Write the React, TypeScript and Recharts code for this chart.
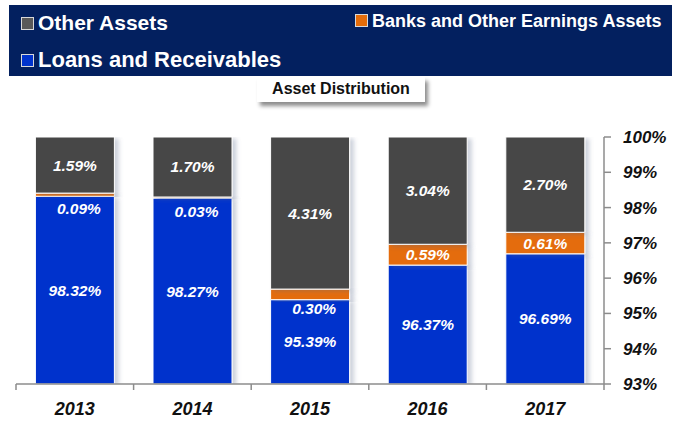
import { BarChart, Bar, XAxis, YAxis, LabelList } from 'recharts';

const years = ['2013', '2014', '2015', '2016', '2017'];
const loans = [98.32, 98.27, 95.39, 96.37, 96.69];
const banks = [0.09, 0.03, 0.3, 0.59, 0.61];
const other = [1.59, 1.7, 4.31, 3.04, 2.7];
const yTicks = [93, 94, 95, 96, 97, 98, 99, 100];

const data = years.map((year, i) => ({
  year,
  loans: loans[i],
  banks: banks[i],
  other: other[i],
}));

const W = 684;
const H = 421;
const M = { top: 137, right: 0, bottom: 0, left: 16 };
const Y_AXIS_W = 80;
const X_AXIS_H = 37;
const PLOT_BOTTOM = H - X_AXIS_H;
const BAND = (W - M.left - M.right - Y_AXIS_W) / years.length;

const FONT = '"Liberation Sans", Arial, sans-serif';
const GREY = '#474747';
const ORANGE = '#e46c0a';
const BLUE = '#0033cc';
const NAVY = '#03205f';
const AXIS = '#8c8c8c';

const pct = (v: number) => `${v.toFixed(2)}%`;

// white italic value label in the middle of a segment
const CenterLabel = (props: any) => {
  const { x, y, width, height, value } = props;
  const top = Math.max(y, M.top);
  const bottom = Math.min(y + height, PLOT_BOTTOM);
  return (
    <text
      x={x + width / 2}
      y={(top + bottom) / 2}
      textAnchor="middle"
      dominantBaseline="central"
      fill="#fff"
      fontFamily={FONT}
      fontWeight="bold"
      fontStyle="italic"
      fontSize={15.5}
    >
      {pct(value)}
    </text>
  );
};

// thin segments get their label just below, on the blue
const BanksLabel = (props: any) => {
  const { x, y, width, height, value } = props;
  const small = value < 0.5;
  return (
    <text
      x={x + width / 2 + (small ? 4 : 0)}
      y={y + height / 2 + (small ? 14 : 0)}
      textAnchor="middle"
      dominantBaseline="central"
      fill="#fff"
      fontFamily={FONT}
      fontWeight="bold"
      fontStyle="italic"
      fontSize={15.5}
    >
      {pct(value)}
    </text>
  );
};

const YearTick = (props: any) => {
  const { x, payload, index } = props;
  return (
    <g>
      {index === 0 && (
        <line x1={x - BAND / 2} x2={x - BAND / 2} y1={PLOT_BOTTOM} y2={PLOT_BOTTOM + 6} stroke={AXIS} strokeWidth={1.5} />
      )}
      <line x1={x + BAND / 2} x2={x + BAND / 2} y1={PLOT_BOTTOM} y2={PLOT_BOTTOM + 6} stroke={AXIS} strokeWidth={1.5} />
      <text
        x={x}
        y={PLOT_BOTTOM + 25}
        textAnchor="middle"
        dominantBaseline="central"
        fill="#111"
        fontFamily={FONT}
        fontWeight="bold"
        fontStyle="italic"
        fontSize={18}
      >
        {payload.value}
      </text>
    </g>
  );
};

const LegendSwatch = ({ color }: { color: string }) => (
  <span
    style={{
      display: 'inline-block',
      width: 11,
      height: 11,
      background: color,
      border: '1px solid #d9d9d9',
      marginRight: 4,
    }}
  />
);

export default function App() {
  return (
    <div style={{ position: 'absolute', left: 0, top: 0, width: W, height: H, background: '#fff', fontFamily: FONT }}>
      <BarChart width={W} height={H} data={data} margin={M} barCategoryGap="16.5%">
        <defs>
          <filter id="barShadow" x="-10%" y="-10%" width="130%" height="130%">
            <feDropShadow dx={4} dy={2} stdDeviation={2} floodColor="#5a6a8a" floodOpacity={0.3} />
          </filter>
        </defs>
        <XAxis
          dataKey="year"
          height={X_AXIS_H}
          axisLine={{ stroke: AXIS, strokeWidth: 1.5 }}
          tickLine={false}
          tick={<YearTick />}
          interval={0}
        />
        <YAxis
          orientation="right"
          width={Y_AXIS_W}
          domain={[93, 100]}
          ticks={yTicks}
          allowDataOverflow
          axisLine={{ stroke: AXIS, strokeWidth: 1.5 }}
          tickLine={{ stroke: AXIS, strokeWidth: 1.5 }}
          tickSize={7}
          tickMargin={12}
          tickFormatter={(v: number) => `${v}%`}
          tick={{ fill: '#111', fontSize: 17, fontWeight: 'bold', fontStyle: 'italic', fontFamily: FONT }}
        />
        <Bar dataKey="loans" stackId="a" fill={BLUE} stroke="#fff" strokeWidth={1} filter="url(#barShadow)" isAnimationActive={false}>
          <LabelList dataKey="loans" content={<CenterLabel />} />
        </Bar>
        <Bar dataKey="banks" stackId="a" fill={ORANGE} stroke="#fff" strokeWidth={1} filter="url(#barShadow)" isAnimationActive={false}>
          <LabelList dataKey="banks" content={<BanksLabel />} />
        </Bar>
        <Bar dataKey="other" stackId="a" fill={GREY} stroke="#fff" strokeWidth={1} filter="url(#barShadow)" isAnimationActive={false}>
          <LabelList dataKey="other" content={<CenterLabel />} />
        </Bar>
      </BarChart>

      <div
        style={{
          position: 'absolute',
          left: 9,
          top: 5,
          width: 663,
          height: 71,
          background: NAVY,
          color: '#fff',
          fontWeight: 'bold',
        }}
      >
        <div style={{ position: 'absolute', left: 12, top: 5, fontSize: 21, lineHeight: '25px', whiteSpace: 'nowrap' }}>
          <LegendSwatch color="#595959" />
          Other Assets
        </div>
        <div style={{ position: 'absolute', left: 346, top: 5, fontSize: 18, lineHeight: '22px', whiteSpace: 'nowrap' }}>
          <LegendSwatch color={ORANGE} />
          Banks and Other Earnings Assets
        </div>
        <div style={{ position: 'absolute', left: 12, top: 42, fontSize: 22, lineHeight: '25px', whiteSpace: 'nowrap' }}>
          <LegendSwatch color={BLUE} />
          Loans and Receivables
        </div>
      </div>

      <div
        style={{
          position: 'absolute',
          left: 257,
          top: 77,
          width: 168,
          height: 25,
          background: '#fff',
          boxShadow: '3px 4px 4px rgba(0,0,0,0.45)',
          fontSize: 16,
          fontWeight: 'bold',
          lineHeight: '23px',
          textAlign: 'center',
          color: '#111',
        }}
      >
        Asset Distribution
      </div>
    </div>
  );
}
